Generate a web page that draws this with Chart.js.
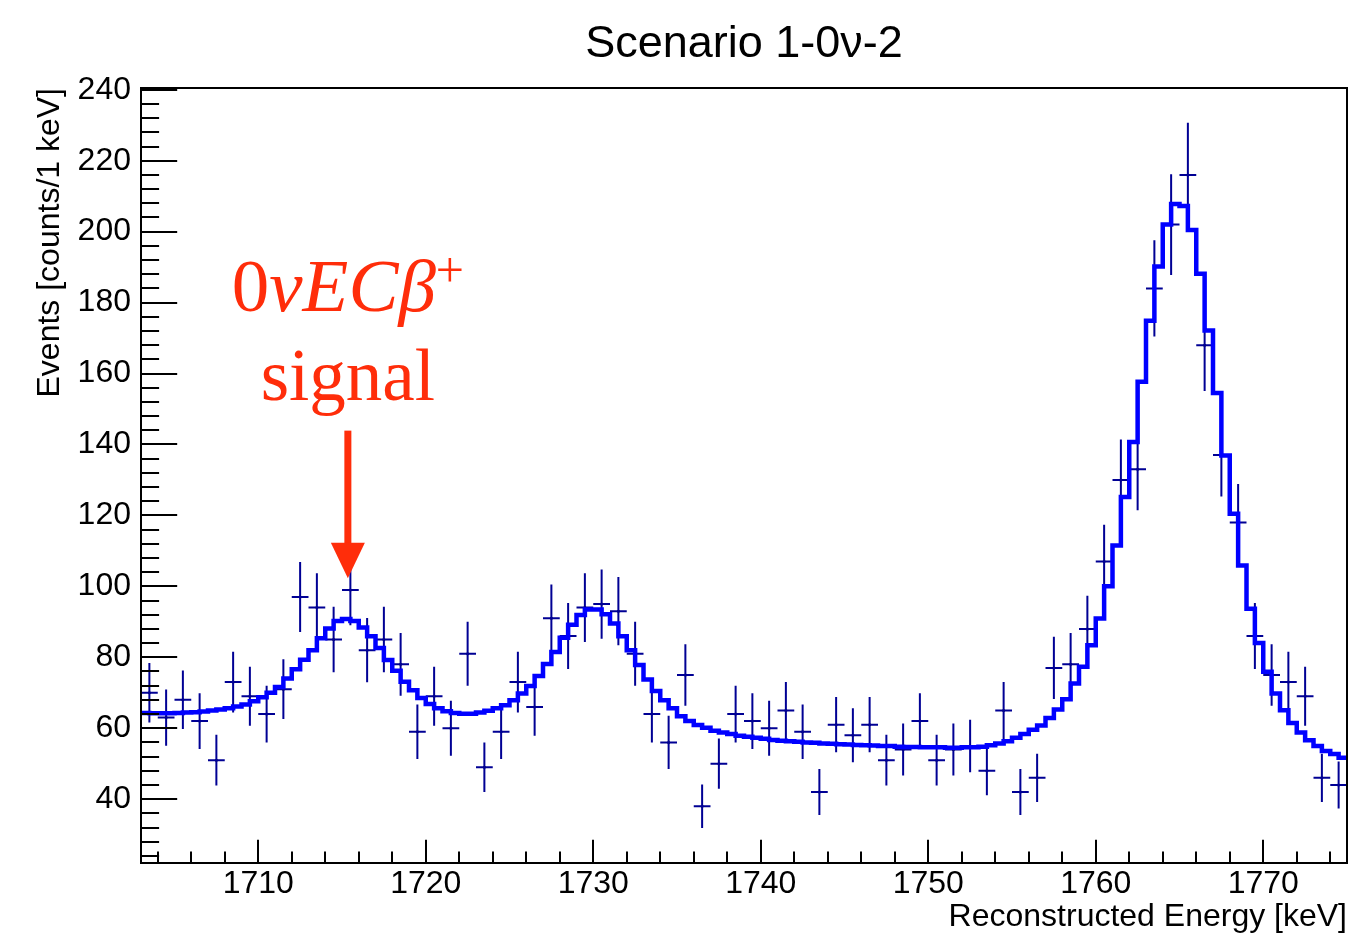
<!DOCTYPE html>
<html>
<head>
<meta charset="utf-8">
<title>Scenario 1-0ν-2</title>
<script src="https://cdn.jsdelivr.net/npm/chart.js@4.4.1/dist/chart.umd.min.js"></script>
<style>
  html, body { margin: 0; padding: 0; background: #fff; }
  #wrap { width: 1351px; height: 936px; }
</style>
</head>
<body>
<div id="wrap"><canvas id="chart" width="1351" height="936"></canvas></div>
<script>
const chartTitle = 'Scenario 1-0ν-2';
const xTitle = 'Reconstructed Energy [keV]';
const yTitle = 'Events [counts/1 keV]';

// measured spectrum: 1 keV bins starting at 1703 keV
const dataStart = 1703;
const dataBinWidth = 1;
const dataCounts = [
  70, 63, 68, 62, 51, 73, 69, 64, 71, 97,
  94, 85, 99, 82, 85, 78, 59, 69, 60, 81,
  49, 59, 73, 66, 91, 86, 94, 95, 93, 81,
  64, 56, 75, 38, 50, 64, 62, 60, 65, 59,
  42, 61, 58, 61, 51, 54, 62, 51, 54, 55,
  48, 65, 42, 46, 77, 78, 88, 107, 130, 133,
  184, 202, 216, 168, 137, 118, 86, 75, 73, 69,
  46, 44
];

// fitted model: 0.5 keV bins starting at 1703 keV
const modelStart = 1703;
const modelBinWidth = 0.5;
const modelCounts = [
  64.3, 64.2, 64.2, 64.2, 64.3, 64.4, 64.5, 64.7, 65.0, 65.3,
  65.6, 66.1, 66.7, 67.6, 68.7, 70.0, 71.6, 74.0, 76.6, 79.3,
  82.0, 85.4, 88.1, 90.2, 90.8, 90.2, 88.4, 85.9, 82.6, 79.2,
  76.2, 73.1, 70.7, 68.5, 66.8, 65.6, 64.8, 64.3, 64.1, 64.1,
  64.4, 64.9, 65.6, 66.5, 67.9, 69.8, 71.9, 74.7, 78.1, 81.5,
  85.5, 89.2, 91.9, 93.5, 93.5, 92.1, 89.5, 85.9, 82.0, 77.8,
  73.7, 70.5, 67.9, 65.6, 63.4, 62.0, 60.9, 60.1, 59.3, 58.8,
  58.4, 57.9, 57.6, 57.3, 57.0, 56.7, 56.5, 56.3, 56.2, 56.0,
  55.9, 55.7, 55.6, 55.5, 55.4, 55.3, 55.2, 55.1, 55.0, 55.0,
  54.8, 54.7, 54.7, 54.6, 54.6, 54.6, 54.5, 54.5, 54.6, 54.6,
  54.8, 55.2, 55.7, 56.3, 57.3, 58.4, 59.6, 60.8, 62.9, 65.3,
  68.2, 72.6, 77.3, 83.4, 90.9, 100.0, 111.5, 125.2, 140.7, 157.7,
  174.9, 190.2, 202.0, 207.8, 207.2, 200.5, 188.1, 172.1, 154.5, 136.9,
  120.5, 105.9, 93.7, 84.0, 75.9, 69.8, 65.1, 61.5, 58.8, 56.6,
  55.0, 53.6, 52.7, 51.7
];

const xRange = [1703, 1775];
const yRange = [22, 240.5];
const xMajor = 10, xMinor = 2;
const yMajor = 20, yMinor = 4;

// annotation, in data units
const signalX = 1715.35;
const signalLine1 = [
  { text: '0', italic: false, sup: false },
  { text: 'νECβ', italic: true, sup: false },
  { text: '+', italic: false, sup: true }
];
const signalLine2 = 'signal';
const signalLine1Y = 177.6;
const signalLine2Y = 152.4;
const arrowFrom = 143.9;
const arrowHeadBase = 112.3;
const arrowTip = 102.3;

const sansFont = '"Liberation Sans", Arial, Helvetica, sans-serif';
const serifFont = '"Liberation Serif", "DejaVu Serif", serif';
const red = '#ff2d0a';

// step outline: point at each left edge plus the closing right edge
const modelPoints = modelCounts.map((v, i) => ({ x: modelStart + i * modelBinWidth, y: v }));
modelPoints.push({ x: modelStart + modelCounts.length * modelBinWidth, y: modelCounts[modelCounts.length - 1] });

// error crosses, separated by gaps
const errorPoints = [];
const markerPoints = [];
dataCounts.forEach((n, i) => {
  const lo = dataStart + i * dataBinWidth;
  const hi = lo + dataBinWidth;
  const c = (lo + hi) / 2;
  const e = Math.sqrt(n);
  errorPoints.push({ x: c, y: n - e }, { x: c, y: n + e }, { x: c, y: null },
                   { x: lo, y: n }, { x: hi, y: n }, { x: hi, y: null });
  markerPoints.push({ x: c, y: n });
});

const rootFrame = {
  id: 'rootFrame',
  afterDraw(chart) {
    const { ctx, chartArea: a, scales: { x, y } } = chart;
    const w = a.right - a.left, h = a.bottom - a.top;
    ctx.save();
    ctx.strokeStyle = '#000';
    ctx.lineWidth = 2;
    ctx.strokeRect(a.left, a.top, w, h);

    ctx.beginPath();
    for (let v = Math.ceil(xRange[0] / xMinor) * xMinor; v <= xRange[1]; v += xMinor) {
      const px = Math.round(x.getPixelForValue(v));
      const len = v % xMajor === 0 ? 0.03 * h : 0.015 * h;
      ctx.moveTo(px, a.bottom);
      ctx.lineTo(px, a.bottom - len);
    }
    for (let v = Math.ceil(yRange[0] / yMinor) * yMinor; v <= yRange[1]; v += yMinor) {
      const py = Math.round(y.getPixelForValue(v));
      const len = v % yMajor === 0 ? 0.03 * w : 0.015 * w;
      ctx.moveTo(a.left, py);
      ctx.lineTo(a.left + len, py);
    }
    ctx.stroke();

    // main title
    ctx.fillStyle = '#000';
    ctx.font = '45px ' + sansFont;
    ctx.textAlign = 'center';
    ctx.textBaseline = 'alphabetic';
    ctx.fillText(chartTitle, (a.left + a.right) / 2, 57);

    // signal label
    const cx = x.getPixelForValue(signalX);
    ctx.fillStyle = red;
    ctx.textAlign = 'left';
    const big = 75, small = 50;
    const fontOf = p => (p.italic ? 'italic ' : '') + (p.sup ? small : big) + 'px ' + serifFont;
    let total = 0;
    signalLine1.forEach(p => { ctx.font = fontOf(p); total += ctx.measureText(p.text).width; });
    let px = cx - total / 2;
    const base1 = y.getPixelForValue(signalLine1Y);
    signalLine1.forEach(p => {
      ctx.font = fontOf(p);
      ctx.fillText(p.text, px, p.sup ? base1 - 24 : base1);
      px += ctx.measureText(p.text).width;
    });
    ctx.font = '73px ' + serifFont;
    ctx.textAlign = 'center';
    ctx.fillText(signalLine2, cx, y.getPixelForValue(signalLine2Y));

    // arrow
    const yFrom = y.getPixelForValue(arrowFrom);
    const yBase = y.getPixelForValue(arrowHeadBase);
    const yTip = y.getPixelForValue(arrowTip);
    ctx.fillRect(cx - 3.5, yFrom, 7, yBase - yFrom + 1);
    ctx.beginPath();
    ctx.moveTo(cx - 17, yBase);
    ctx.lineTo(cx + 17, yBase);
    ctx.lineTo(cx, yTip);
    ctx.closePath();
    ctx.fill();
    ctx.restore();
  }
};

const tickFont = { family: sansFont, size: 32 };

new Chart(document.getElementById('chart').getContext('2d'), {
  type: 'line',
  data: {
    datasets: [
      {
        label: 'model',
        data: modelPoints,
        stepped: true,
        borderColor: '#0000ff',
        borderWidth: 4.5,
        borderJoinStyle: 'miter',
        pointRadius: 0,
        fill: false
      },
      {
        label: 'data',
        data: errorPoints,
        borderColor: '#000094',
        borderWidth: 2,
        pointRadius: 0,
        spanGaps: false,
        fill: false
      },
      {
        label: 'markers',
        data: markerPoints,
        showLine: false,
        pointRadius: 1.5,
        pointBorderWidth: 0,
        pointBackgroundColor: '#000'
      }
    ]
  },
  options: {
    responsive: false,
    animation: false,
    devicePixelRatio: 1,
    layout: { padding: { top: 88, right: 1, left: 0, bottom: 0 } },
    plugins: {
      legend: { display: false },
      tooltip: { enabled: false },
      title: { display: false }
    },
    scales: {
      x: {
        type: 'linear',
        min: xRange[0],
        max: xRange[1],
        afterFit: s => { s.height = 73; },
        grid: { display: false, drawTicks: false },
        border: { display: false },
        ticks: {
          stepSize: xMajor,
          padding: 2,
          color: '#000',
          font: tickFont,
          maxRotation: 0,
          autoSkip: false,
          includeBounds: false,
          callback: v => String(v)
        },
        title: { display: true, text: xTitle, align: 'end', color: '#000', font: tickFont, padding: { top: 0, bottom: 0 } }
      },
      y: {
        type: 'linear',
        min: yRange[0],
        max: yRange[1],
        afterFit: s => { s.width = 141; },
        grid: { display: false, drawTicks: false },
        border: { display: false },
        ticks: {
          stepSize: yMajor,
          padding: 10,
          color: '#000',
          font: tickFont,
          includeBounds: false,
          callback: v => String(v)
        },
        title: { display: true, text: yTitle, align: 'end', color: '#000', font: tickFont, padding: { top: 31, bottom: 0 } }
      }
    }
  },
  plugins: [rootFrame]
});
</script>
</body>
</html>
